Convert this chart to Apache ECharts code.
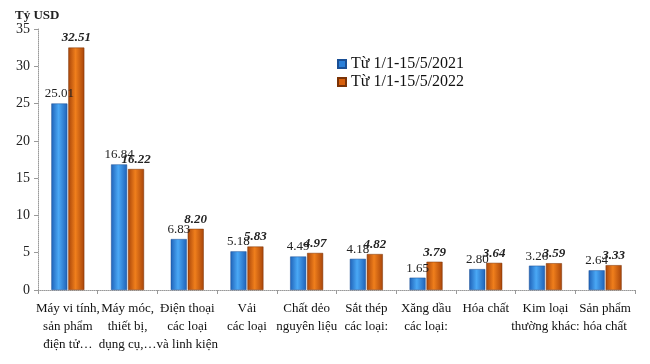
<!DOCTYPE html>
<html><head><meta charset="utf-8">
<script src="https://cdn.jsdelivr.net/npm/echarts@6/dist/echarts.min.js"></script>
<style>html,body{margin:0;padding:0;background:#fff}#c{width:650px;height:364px}</style>
</head><body><div id="c"></div>
<script>
var categories = ["Máy vi tính,\nsản phẩm\nđiện tử…","Máy móc,\nthiết bị,\ndụng cụ,…","Điện thoại\ncác loại\nvà linh kiện","Vải\ncác loại","Chất dẻo\nnguyên liệu","Sắt thép\ncác loại:","Xăng dầu\ncác loại:","Hóa chất","Kim loại\nthường khác:","Sản phẩm\nhóa chất"];
var values2021 = [25.01,16.84,6.83,5.18,4.49,4.18,1.65,2.80,3.26,2.64];
var values2022 = [32.51,16.22,8.20,5.83,4.97,4.82,3.79,3.64,3.59,3.33];
var seriesNames = ["Từ 1/1-15/5/2021","Từ 1/1-15/5/2022"];
var yTicks = {min:0,max:35,interval:5};

var font = "'Liberation Serif','Times New Roman',serif";
function grad(dark, light){
  return new echarts.graphic.LinearGradient(0,0,1,0,[
    {offset:0,color:dark},{offset:0.45,color:light},{offset:1,color:dark}]);
}
var chart = echarts.init(document.getElementById('c'));
chart.setOption({
  animation:false,
  textStyle:{fontFamily:font},
  title:{text:'Tỷ USD',left:10,top:4,textStyle:{fontFamily:font,fontSize:13,fontWeight:'bold',color:'#222'}},
  legend:{orient:'vertical',left:332,top:51,itemWidth:8,itemHeight:8,itemGap:2,
    textStyle:{fontFamily:font,fontSize:16,color:'#111'},
    data:[{name:seriesNames[0],icon:'rect',itemStyle:{color:'#2a7fd8'}},{name:seriesNames[1],icon:'rect',itemStyle:{color:'#d8600c'}}]},
  grid:{left:38,right:15,top:29,bottom:74,containLabel:false},
  xAxis:{type:'category',data:categories,
    axisLine:{lineStyle:{color:'#999',type:'dotted'}},
    axisTick:{show:true,alignWithLabel:false,length:4,lineStyle:{color:'#999'}},
    axisLabel:{interval:0,fontFamily:font,fontSize:13,color:'#111',lineHeight:18,margin:10}},
  yAxis:{type:'value',min:yTicks.min,max:yTicks.max,interval:yTicks.interval,
    splitLine:{show:false},
    axisLine:{show:true,lineStyle:{color:'#999',type:'dotted'}},
    axisTick:{show:true,length:4,lineStyle:{color:'#999'}},
    axisLabel:{fontFamily:font,fontSize:14,color:'#222',margin:8}},
  series:[
    {name:seriesNames[0],type:'bar',data:values2021,barWidth:16,barGap:'6%',
      itemStyle:{color:grad('#1f62b8','#4aa8f5'),borderColor:'#1a4f95',borderWidth:0.5},
      label:{show:true,position:'top',distance:3,fontFamily:font,fontSize:13,color:'#222',formatter:function(p){return p.value.toFixed(2);}}},
    {name:seriesNames[1],type:'bar',data:values2022,barWidth:16,
      itemStyle:{color:grad('#a8450a','#f07f1c'),borderColor:'#7a3306',borderWidth:0.5},
      label:{show:true,position:'top',distance:3,fontFamily:font,fontSize:13,fontWeight:'bold',fontStyle:'italic',color:'#222',formatter:function(p){return p.value.toFixed(2);}}}
  ]
});
</script></body></html>
